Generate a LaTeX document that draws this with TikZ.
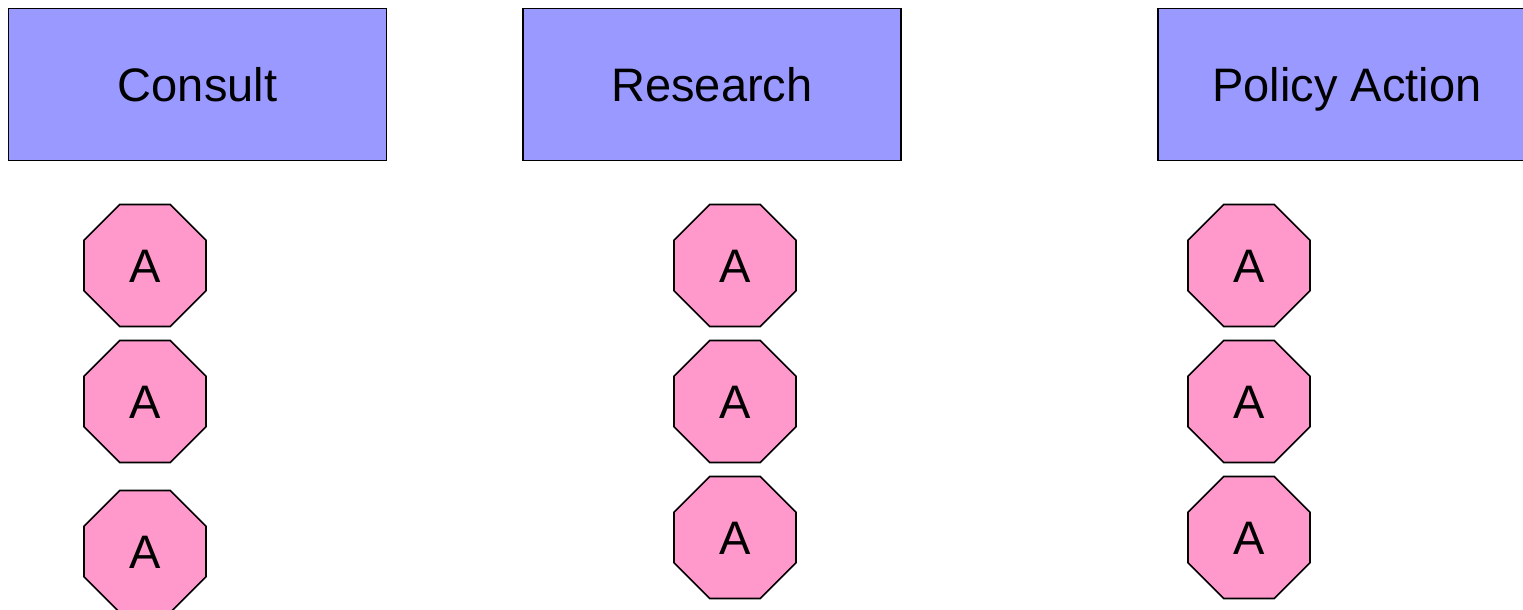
\documentclass[tikz,border=0pt]{standalone}
\usepackage{fontspec}
\setmainfont{Liberation Sans}
\usetikzlibrary{shapes.geometric}
\definecolor{boxblue}{HTML}{9999FF}
\definecolor{octpink}{HTML}{FF99CC}
\begin{document}
\begin{tikzpicture}[x=1pt,y=-1pt,
  txt/.style={font=\fontsize{47}{56}\selectfont,text height=33.7pt,text depth=0pt},
  hdr/.style={txt,draw=black,fill=boxblue,line width=1.6pt,rectangle,minimum width=378pt,minimum height=152pt,inner sep=0pt},
  oct/.style={txt,draw=black,fill=octpink,line width=1.6pt,regular polygon,regular polygon sides=8,minimum size=132pt,inner sep=0pt}]
\clip (0,0) rectangle (1523,610);
\node[hdr] (consult) at (197.5,84.5) {Consult};
\node[hdr] (research) at (712,84.5) {Research};
\node[hdr] (policy) at (1347,84.5) {Policy Action};
\node[oct] (c1) at (145,265.5) {A};
\node[oct] (c2) at (145,401.5) {A};
\node[oct] (c3) at (145,551.5) {A};
\node[oct] (r1) at (735,265.5) {A};
\node[oct] (r2) at (735,401.5) {A};
\node[oct] (r3) at (735,537.5) {A};
\node[oct] (p1) at (1249,265.5) {A};
\node[oct] (p2) at (1249,401.5) {A};
\node[oct] (p3) at (1249,537.5) {A};
\end{tikzpicture}
\end{document}
